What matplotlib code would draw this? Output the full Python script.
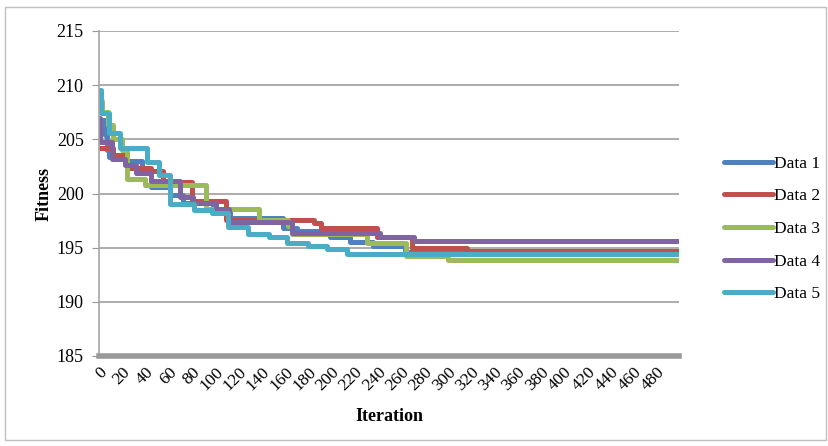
import matplotlib
matplotlib.use("Agg")
import matplotlib.pyplot as plt
from matplotlib.patches import Rectangle
import numpy as np

plt.rcParams["font.family"] = ["Liberation Serif", "DejaVu Serif"]

N_ITER = 499

# step-change points (iteration, best fitness)
iters_1 = [0, 5, 7, 9, 24, 37, 45, 61, 72, 98, 113, 158, 170, 199, 216, 236, 263]
fit_1 = [206.8, 205.4, 204.0, 203.4, 203.0, 202.2, 200.6, 199.9, 199.1, 198.5,
         197.7, 196.8, 196.5, 196.0, 195.5, 195.2, 194.6]

iters_2 = [0, 12, 24, 45, 55, 80, 109, 185, 191, 239, 269, 317]
fit_2 = [204.2, 203.6, 202.4, 202.1, 201.1, 199.3, 197.6, 197.3, 196.8, 196.0,
         195.0, 194.7]

iters_3 = [0, 3, 8, 12, 20, 24, 40, 92, 138, 163, 166, 231, 264, 300]
fit_3 = [208.5, 207.5, 206.3, 205.0, 204.0, 201.3, 200.8, 198.6, 197.6, 197.0,
         196.3, 195.4, 194.2, 193.9]

iters_4 = [0, 1, 11, 22, 32, 45, 70, 81, 101, 112, 166, 242, 271]
fit_4 = [207.0, 204.8, 203.2, 202.6, 201.9, 201.2, 199.7, 199.1, 198.6, 197.4,
         196.4, 196.0, 195.6]

iters_5 = [0, 2, 9, 18, 41, 52, 61, 82, 97, 111, 128, 146, 162, 180, 196, 213]
fit_5 = [209.6, 207.4, 205.6, 204.2, 202.9, 201.7, 199.0, 198.5, 198.2, 196.9,
         196.3, 196.0, 195.4, 195.2, 194.9, 194.4]

labels = ["Data 1", "Data 2", "Data 3", "Data 4", "Data 5"]
colors = ["#4F81BD", "#C0504D", "#9BBB59", "#8064A2", "#4BACC6"]
x_ticks = list(range(0, 481, 20))
y_ticks = [185, 190, 195, 200, 205, 210, 215]

fig = plt.figure(figsize=(8.29, 4.46), dpi=100)
ax = fig.add_axes([99 / 829, 1 - 356 / 446, 580 / 829, 325 / 446])

series = [(iters_1, fit_1), (iters_2, fit_2), (iters_3, fit_3),
          (iters_4, fit_4), (iters_5, fit_5)]
for (it, fv), lab, c in zip(series, labels, colors):
    x = np.append(it, N_ITER)
    y = np.append(fv, fv[-1])
    ax.plot(x, y, drawstyle="steps-post", color=c, lw=3.6, label=lab,
            solid_joinstyle="round", solid_capstyle="round")

ax.set_xlim(0, N_ITER)
ax.set_ylim(185, 215)
ax.set_yticks(y_ticks)
ax.set_xticks(x_ticks)
ax.set_xticklabels([str(v) for v in x_ticks], rotation=45, ha="right",
                   va="top", rotation_mode="anchor", fontsize=12.5)
ax.tick_params(axis="x", length=0, pad=6)
ax.tick_params(axis="y", length=5, color="#999999", labelsize=13, pad=6)
ax.yaxis.grid(True, color="#a6a6a6", lw=1.3)
ax.set_axisbelow(True)

for s in ["top", "right"]:
    ax.spines[s].set_visible(False)
ax.spines["left"].set_color("#a6a6a6")
ax.spines["left"].set_linewidth(1.2)
ax.spines["bottom"].set_color("#999999")
ax.spines["bottom"].set_linewidth(4)
ax.spines["bottom"].set_zorder(5)

ax.set_xlabel("Iteration", fontsize=13, fontweight="bold", labelpad=10)
ax.set_ylabel("Fitness", fontsize=13, fontweight="bold", labelpad=3)

ax.legend(loc="center left", bbox_to_anchor=(724 / 829, 1 - 229 / 446),
          bbox_transform=fig.transFigure, frameon=False, fontsize=12.5,
          handlelength=2.8, handletextpad=0.1, labelspacing=0.95,
          borderpad=0, borderaxespad=0)

fig.patches.append(Rectangle((5 / 829, 6 / 446), 821 / 829, 433 / 446,
                             transform=fig.transFigure, fill=False,
                             edgecolor="#bfbfbf", lw=1))

fig.savefig("out.png", dpi=100)
